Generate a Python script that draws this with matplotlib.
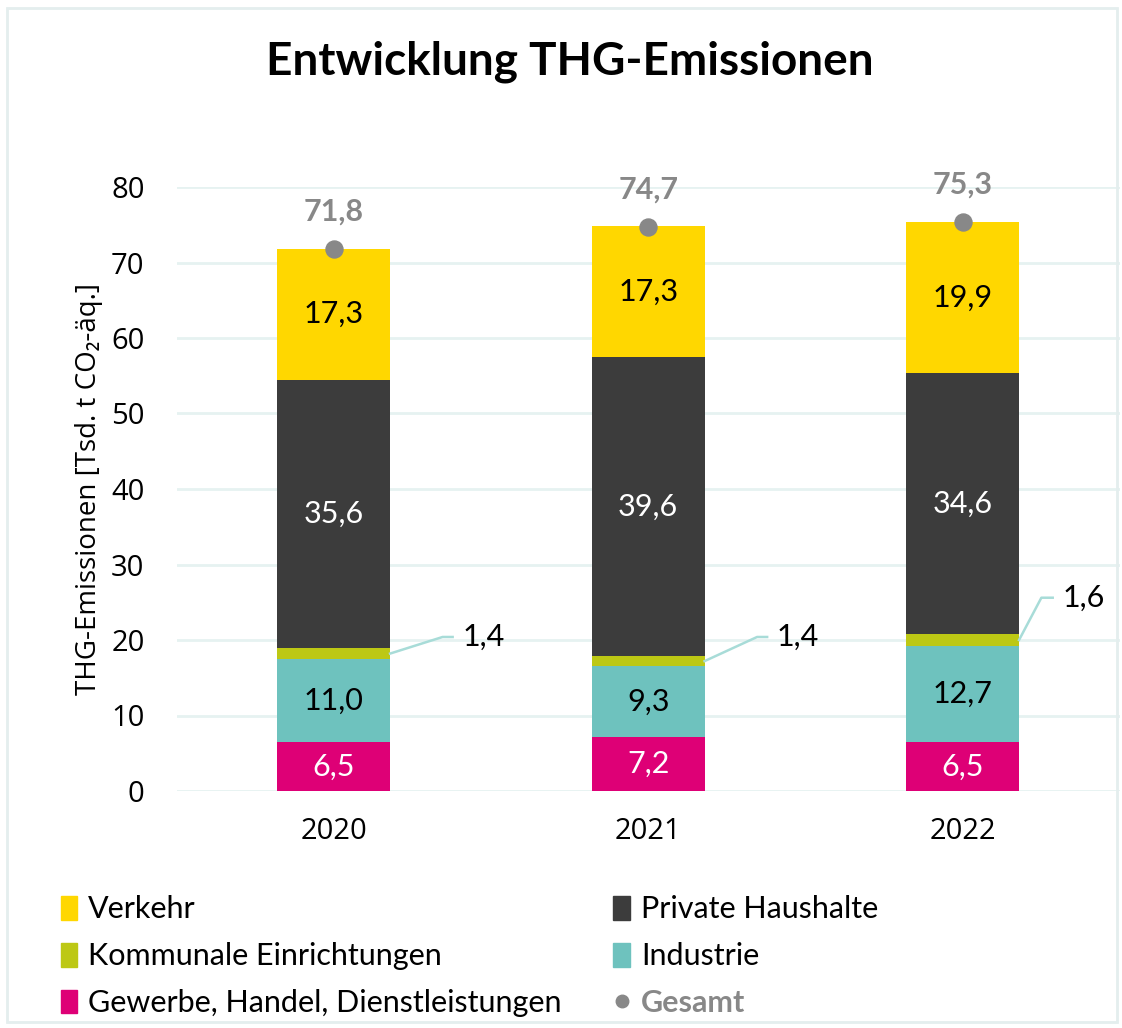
#!/usr/bin/env python3
"""Stacked bar chart: Entwicklung THG-Emissionen 2020-2022."""

import matplotlib
matplotlib.use('Agg')
import matplotlib.pyplot as plt
from matplotlib.patches import Patch, Rectangle
from matplotlib.lines import Line2D
import numpy as np

years = ['2020', '2021', '2022']
gewerbe = [6.5, 7.2, 6.5]
industrie = [11.0, 9.3, 12.7]
kommunal = [1.4, 1.4, 1.6]
haushalte = [35.6, 39.6, 34.6]
verkehr = [17.3, 17.3, 19.9]
gesamt = [71.8, 74.7, 75.3]
yticks = [0, 10, 20, 30, 40, 50, 60, 70, 80]

C_VERKEHR = '#FFD700'
C_HAUS = '#3C3C3C'
C_KOMM = '#BDC814'
C_IND = '#6EC2BE'
C_GEW = '#DE0076'
C_GES = '#888888'
C_LEADER = '#A8DCD8'
C_GRID = '#E6F2F1'

FONT = ['Lato', 'DejaVu Sans']
NUMFONT = ['Open Sans', 'DejaVu Sans']


def fmt(v):
    return f"{v:.1f}".replace('.', ',')


fig = plt.figure(figsize=(11.22, 10.28), dpi=100)
fig.patches.append(Rectangle((7 / 1122, 6 / 1028), 1110 / 1122, 1014 / 1028,
                             transform=fig.transFigure, fill=False,
                             edgecolor='#E4EEEE', lw=2))

ax = fig.add_axes([176.5 / 1122, 237 / 1028, 943.5 / 1122, 604 / 1028])
x = np.arange(len(years))
w = 0.358

series = [
    ('Gewerbe, Handel, Dienstleistungen', gewerbe, C_GEW, 'white'),
    ('Industrie', industrie, C_IND, 'black'),
    ('Kommunale Einrichtungen', kommunal, C_KOMM, None),
    ('Private Haushalte', haushalte, C_HAUS, 'white'),
    ('Verkehr', verkehr, C_VERKEHR, 'black'),
]

bottom = np.zeros(len(years))
mids = {}
for name, vals, color, tcol in series:
    vals = np.array(vals)
    ax.bar(x, vals, w, bottom=bottom, color=color, zorder=2)
    mids[name] = bottom + vals / 2
    if tcol is not None:
        for xi, b, v in zip(x, bottom, vals):
            ax.text(xi, b + v / 2, fmt(v), ha='center', va='center',
                    color=tcol, fontsize=22, family=FONT, zorder=3)
    bottom = bottom + vals

# callouts for Kommunale Einrichtungen
kmid = mids['Kommunale Einrichtungen']
offsets = [(0.346, 0.378, 20.4), (0.346, 0.378, 20.4), (0.25, 0.286, 25.6)]
for xi, m, v, (ex, hx, ty) in zip(x, kmid, kommunal, offsets):
    ax.plot([xi + w / 2, xi + ex, xi + hx], [m, ty, ty], color=C_LEADER,
            lw=1.8, zorder=3, clip_on=False)
    ax.text(xi + hx + 0.03, ty, fmt(v), ha='left', va='center',
            fontsize=22, family=FONT, color='black')

# Gesamt markers
ax.scatter(x, gesamt, s=150, color=C_GES, zorder=4, clip_on=False)
for xi, g in zip(x, gesamt):
    ax.annotate(fmt(g), (xi, g), xytext=(0, 27), textcoords='offset points',
                ha='center', va='center', fontsize=22, fontweight='bold',
                color=C_GES, family=FONT, annotation_clip=False)

ax.set_xlim(-0.5, 2.5)
ax.set_ylim(0, 80)
ax.set_yticks(yticks)
ax.set_yticklabels([str(t) for t in yticks], fontsize=21, family=NUMFONT)
ax.set_xticks(x)
ax.set_xticklabels(years, fontsize=21, family=NUMFONT)
ax.tick_params(axis='y', length=0, pad=23)
ax.tick_params(axis='x', length=0, pad=19)
ax.grid(axis='y', color=C_GRID, lw=2, zorder=0)
ax.set_axisbelow(True)
for s in ax.spines.values():
    s.set_visible(False)

ax.set_ylabel('THG-Emissionen [Tsd. t CO₂-äq.]', fontsize=20,
              family=NUMFONT, labelpad=6)

fig.text(0.508, 0.94, 'Entwicklung THG-Emissionen', ha='center', va='center',
         fontsize=33, fontweight='bold', family=FONT)

handles = [
    Patch(color=C_VERKEHR), Patch(color=C_KOMM), Patch(color=C_GEW),
    Patch(color=C_HAUS), Patch(color=C_IND),
    Line2D([], [], marker='o', ls='', color=C_GES, markersize=9),
]
labels = ['Verkehr', 'Kommunale Einrichtungen',
          'Gewerbe, Handel, Dienstleistungen', 'Private Haushalte',
          'Industrie', 'Gesamt']
leg = fig.legend(handles, labels, ncol=2, loc='upper left',
                 bbox_to_anchor=(33 / 1122, 1 - 868 / 1028), frameon=False,
                 prop={'family': FONT, 'size': 22}, handlelength=0.55,
                 handleheight=0.8, handletextpad=0.35, columnspacing=1.7,
                 labelspacing=0.62)
last = leg.get_texts()[-1]
last.set_color(C_GES)
last.set_fontweight('bold')

fig.savefig('out.png', dpi=100)
